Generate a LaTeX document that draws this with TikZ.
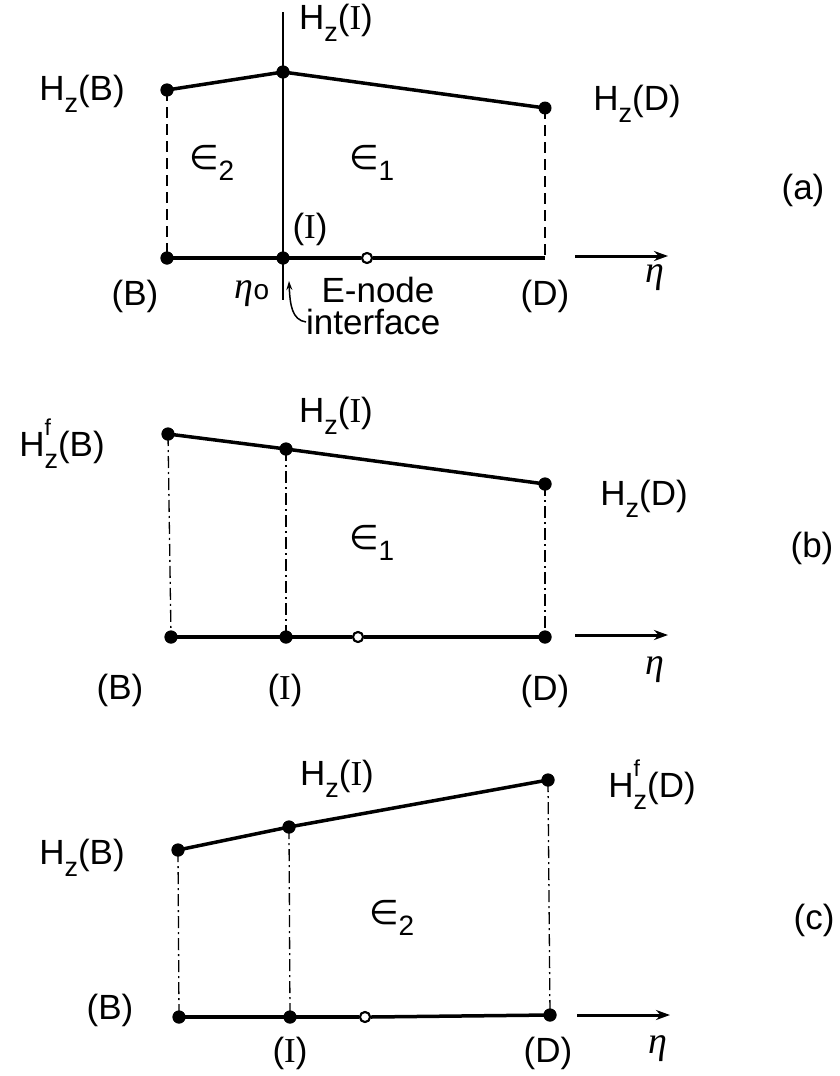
\documentclass[tikz,border=0pt]{standalone}
\usepackage{fontspec}
\setmainfont{Liberation Sans}
\newfontfamily\serifI{Liberation Serif}
\newfontfamily\grk{DejaVu Sans}
\usetikzlibrary{arrows.meta}
\newcommand{\zs}{\raisebox{-0.34em}{\fontsize{27}{27}\selectfont z}}
\newcommand{\Hz}{H\zs}
\newcommand{\Hfz}{H\rlap{\raisebox{0.6em}{\fontsize{23}{23}\selectfont f}}\zs}
\newcommand{\RI}{{\serifI I}}
\newcommand{\etaG}{{\serifI\itshape\fontsize{38}{38}\selectfont η}}
\newcommand{\eps}[1]{{\grk\fontsize{34}{34}\selectfont ∈}\kern-1pt\raisebox{-0.32em}{\fontsize{28}{28}\selectfont #1}}
\tikzset{
  lbl/.style={inner sep=0pt, font=\fontsize{35}{40}\selectfont},
  dot/.style={circle, fill=black, inner sep=0pt, minimum size=13pt},
  odot/.style={circle, draw=black, fill=white, line width=2pt, inner sep=0pt, minimum size=10pt},
  profile/.style={line width=3.5pt},
  axisline/.style={line width=3.5pt},
  etaarrow/.style={line width=3pt, -{Stealth[length=14pt,width=10pt]}},
  dashA/.style={line width=1.5pt, dash pattern=on 11pt off 6pt},
  dashB/.style={line width=1.3pt, dash pattern=on 12pt off 4pt on 2pt off 4pt},
}
\begin{document}
\begin{tikzpicture}[x=1pt,y=-1pt]
\useasboundingbox (0,0) rectangle (840,1076);
% ---------------- (a) ----------------
\node[dot] (aBt) at (167,90) {};
\node[dot] (aIt) at (283,72) {};
\coordinate (aDt) at (545,108);
\node[dot] at (aDt) {};
\node[dot] (aBb) at (167,258) {};
\node[dot] (aIb) at (283,258) {};
\node[odot] (aE) at (367,258) {};
\coordinate (aDb) at (545,258);
\coordinate (aItop) at (283,12);
\coordinate (aIbot) at (283,300);
\coordinate (aArrS) at (575,256);
\coordinate (aArrE) at (668,256);
\draw[line width=1.5pt] (aItop) -- (aIbot);
\draw[dashA] (aBt.center) -- (aBb.center);
\draw[dashA] (aDt) -- (aDb);
\draw[profile] (aBt.center) -- (aIt.center) -- (aDt);
\draw[axisline] (aBb.center) -- (aE.west);
\draw[axisline] (aE.east) -- (aDb);
\node[odot] at (aE) {};
\node[dot] at (aBt) {};\node[dot] at (aIt) {};\node[dot] at (aBb) {};\node[dot] at (aIb) {};
\draw[etaarrow] (aArrS) -- (aArrE);
\node[lbl] (aLHI) at (336,23) {\Hz(\RI)};
\node[lbl] (aLHB) at (82,94) {\Hz(B)};
\node[lbl] (aLHD) at (637,104) {\Hz(D)};
\node[lbl] (aLe2) at (212,163) {\eps{2}};
\node[lbl] (aLe1) at (372,163) {\eps{1}};
\node[lbl] (aLa) at (803,190) {(a)};
\node[lbl] (aLI) at (310,229) {(\RI)};
\node[lbl] (aLB) at (135,296) {(B)};
\node[lbl] (aLeta0) at (252,294) {\etaG\raisebox{-0.02em}{\fontsize{28}{28}\selectfont o}};
\node[lbl] (aLEn) at (378,290) {E-node};
\node[lbl] (aLD) at (545,296) {(D)};
\node[lbl] (aLeta) at (655,278) {\etaG};
\node[lbl, anchor=west] (aLint) at (306,322) {interface};
\draw[line width=1.5pt, -{Stealth[length=9pt,width=6pt]}] (aLint.west) .. controls (292,320) and (290,305) .. (289,281);
% ---------------- (b) ----------------
\node[dot] (bBt) at (168,434) {};
\node[dot] (bIt) at (286,449) {};
\node[dot] (bDt) at (545,484) {};
\node[dot] (bBb) at (171,637) {};
\node[dot] (bIb) at (286,637) {};
\node[odot] (bE) at (358,637) {};
\node[dot] (bDb) at (545,637) {};
\coordinate (bArrS) at (575,635);
\coordinate (bArrE) at (668,635);
\draw[dashB] (bBt.center) -- (bBb.center);
\draw[dashB] (bIt.center) -- (bIb.center);
\draw[dashB] (bDt.center) -- (bDb.center);
\draw[profile] (bBt.center) -- (bIt.center) -- (bDt.center);
\draw[axisline] (bBb.center) -- (bE.west);
\draw[axisline] (bE.east) -- (bDb.center);
\node[odot] at (bE) {};
\foreach \n in {bBt,bIt,bDt,bBb,bIb,bDb} {\node[dot] at (\n) {};}
\draw[etaarrow] (bArrS) -- (bArrE);
\node[lbl] (bLHB) at (62,444) {\Hfz(B)};
\node[lbl] (bLHI) at (336,416) {\Hz(\RI)};
\node[lbl] (bLHD) at (644,499) {\Hz(D)};
\node[lbl] (bLe1) at (372,543) {\eps{1}};
\node[lbl] (bLb) at (812,548) {(b)};
\node[lbl] (bLB) at (120,690) {(B)};
\node[lbl] (bLI) at (285,690) {(\RI)};
\node[lbl] (bLD) at (545,691) {(D)};
\node[lbl] (bLeta) at (655,670) {\etaG};
% ---------------- (c) ----------------
\node[dot] (cBt) at (178,850) {};
\node[dot] (cIt) at (289,827) {};
\node[dot] (cDt) at (548,780) {};
\node[dot] (cBb) at (179,1017) {};
\node[dot] (cIb) at (290,1017) {};
\node[odot] (cE) at (365,1017) {};
\node[dot] (cDb) at (550,1015) {};
\coordinate (cArrS) at (577,1015);
\coordinate (cArrE) at (670,1015);
\draw[dashB] (cBt.center) -- (cBb.center);
\draw[dashB] (cIt.center) -- (cIb.center);
\draw[dashB] (cDt.center) -- (cDb.center);
\draw[profile] (cBt.center) -- (cIt.center) -- (cDt.center);
\draw[axisline] (cBb.center) -- (cE.west);
\draw[axisline] (cE.east) -- (cDb.center);
\node[odot] at (cE) {};
\foreach \n in {cBt,cIt,cDt,cBb,cIb,cDb} {\node[dot] at (\n) {};}
\draw[etaarrow] (cArrS) -- (cArrE);
\node[lbl] (cLHI) at (337,779) {\Hz(\RI)};
\node[lbl] (cLHD) at (652,785) {\Hfz(D)};
\node[lbl] (cLHB) at (82,858) {\Hz(B)};
\node[lbl] (cLe2) at (392,918) {\eps{2}};
\node[lbl] (cLc) at (814,920) {(c)};
\node[lbl] (cLB) at (110,1010) {(B)};
\node[lbl] (cLI) at (290,1053) {(\RI)};
\node[lbl] (cLD) at (548,1053) {(D)};
\node[lbl] (cLeta) at (658,1049) {\etaG};
\end{tikzpicture}
\end{document}
